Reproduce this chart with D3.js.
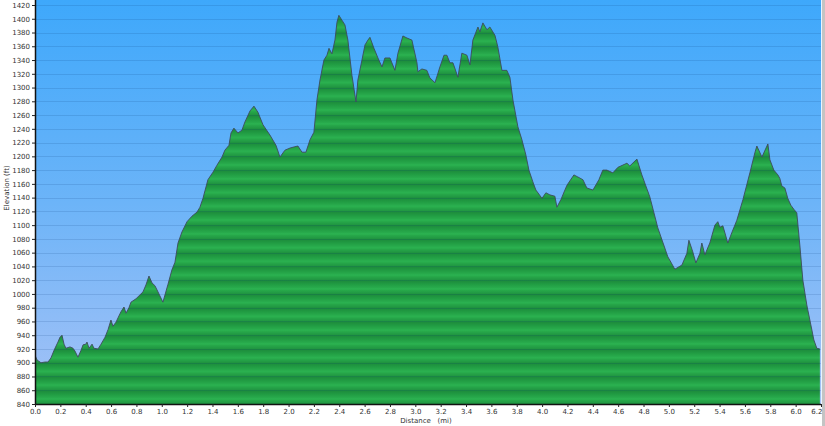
<!DOCTYPE html>
<html>
<head>
<meta charset="utf-8">
<script src="https://cdn.jsdelivr.net/npm/d3@7/dist/d3.min.js"></script>
<style>
html,body{margin:0;padding:0;background:#fff;}
svg{display:block;}
text{font-family:"DejaVu Sans",Verdana,sans-serif;}
</style>
</head>
<body>
<svg id="chart" width="825" height="426"></svg>
<script>
const distance = [0.000,0.016,0.047,0.079,0.103,0.126,0.150,0.181,0.197,0.213,0.229,0.244,0.276,0.300,0.315,0.339,0.363,0.379,0.402,0.410,0.426,0.450,0.465,0.497,0.521,0.552,0.576,0.599,0.615,0.639,0.662,0.678,0.702,0.718,0.741,0.757,0.797,0.852,0.875,0.899,0.923,0.946,0.978,1.009,1.049,1.080,1.104,1.128,1.159,1.199,1.238,1.278,1.301,1.325,1.364,1.404,1.435,1.475,1.498,1.530,1.546,1.569,1.601,1.632,1.656,1.696,1.727,1.759,1.798,1.853,1.901,1.932,1.972,2.011,2.050,2.074,2.106,2.137,2.169,2.200,2.224,2.248,2.279,2.303,2.319,2.342,2.366,2.382,2.397,2.421,2.445,2.468,2.500,2.532,2.547,2.579,2.603,2.626,2.642,2.674,2.705,2.737,2.760,2.800,2.839,2.863,2.902,2.934,2.973,3.013,3.020,3.052,3.091,3.115,3.155,3.194,3.226,3.249,3.273,3.297,3.336,3.367,3.407,3.431,3.454,3.494,3.509,3.533,3.565,3.588,3.628,3.651,3.683,3.722,3.746,3.770,3.809,3.841,3.872,3.896,3.927,3.951,3.999,4.030,4.061,4.101,4.117,4.148,4.196,4.251,4.282,4.322,4.353,4.401,4.448,4.479,4.511,4.558,4.598,4.669,4.692,4.748,4.787,4.850,4.913,4.992,5.047,5.103,5.142,5.158,5.189,5.213,5.245,5.260,5.284,5.323,5.363,5.386,5.402,5.426,5.465,5.505,5.536,5.584,5.639,5.678,5.694,5.734,5.781,5.797,5.828,5.860,5.875,5.891,5.915,5.938,5.962,5.986,6.009,6.033,6.057,6.088,6.120,6.144,6.167,6.191];
const elevation = [911,904,900,901,901,907,918,930,937,940,927,921,923,921,917,908,918,926,927,930,921,927,921,920,927,937,948,962,953,959,968,974,981,972,980,988,993,1003,1013,1026,1016,1012,1000,988,1014,1035,1046,1074,1090,1105,1113,1119,1126,1139,1166,1177,1187,1199,1209,1216,1234,1241,1234,1238,1250,1266,1273,1264,1246,1231,1216,1199,1209,1212,1214,1215,1206,1206,1224,1235,1282,1311,1340,1347,1357,1349,1369,1395,1405,1398,1391,1369,1318,1279,1311,1340,1362,1369,1373,1357,1343,1330,1343,1343,1325,1350,1375,1372,1369,1336,1323,1327,1325,1314,1307,1330,1347,1347,1336,1336,1315,1350,1347,1333,1369,1388,1381,1394,1384,1388,1376,1359,1325,1325,1315,1282,1243,1224,1202,1180,1163,1151,1139,1147,1144,1142,1126,1137,1158,1173,1170,1166,1154,1151,1166,1180,1180,1176,1184,1190,1186,1196,1173,1141,1096,1054,1036,1042,1059,1078,1061,1045,1059,1074,1057,1074,1100,1105,1097,1099,1074,1093,1107,1137,1176,1205,1215,1199,1218,1195,1180,1173,1168,1157,1154,1139,1129,1123,1118,1071,1020,984,955,933,921,920];
const xTicks = d3.range(0, 32).map(i => +(i * 0.2).toFixed(1));
const yTicks = d3.range(840, 1421, 20);
const xTitle = "Distance   (mi)";
const yTitle = "Elevation (ft)";

const svg = d3.select("#chart");
const L = 35, R = 821, T = 0, B = 404;
const x = d3.scaleLinear().domain([0, 6.2]).range([L, R]);
const y = d3.scaleLinear().domain([840, 1420]).range([B, 5]);
const band = y(840) - y(860);

const defs = svg.append("defs");
const bg = defs.append("linearGradient").attr("id","bg").attr("x1",0).attr("y1",0).attr("x2",0).attr("y2",1);
bg.append("stop").attr("offset","0%").attr("stop-color","#3ea8fb");
bg.append("stop").attr("offset","50%").attr("stop-color","#6cb4f8");
bg.append("stop").attr("offset","100%").attr("stop-color","#a6c2f6");

const sg = defs.append("linearGradient").attr("id","stripe").attr("x1",0).attr("y1",0).attr("x2",0).attr("y2",1);
[["0%","#1c893b"],["30%","#219c43"],["55%","#28ab4c"],["64%","#2cb452"],["72%","#27a94a"],["100%","#209441"]]
  .forEach(s => sg.append("stop").attr("offset", s[0]).attr("stop-color", s[1]));
const pat = defs.append("pattern").attr("id","greenpat").attr("patternUnits","userSpaceOnUse")
  .attr("width", 10).attr("height", band)
  .attr("patternTransform", `translate(0,${y(1420)})`);
pat.append("rect").attr("width",10).attr("height",band).attr("fill","url(#stripe)");

defs.append("clipPath").attr("id","clip").append("rect").attr("x",L).attr("y",T).attr("width",R-L).attr("height",B-T);

svg.append("rect").attr("x",L).attr("y",T).attr("width",R-L).attr("height",B-T).attr("fill","url(#bg)");

const data = distance.map((d,i)=>({d, e: elevation[i]}));
const area = d3.area().x(p=>x(p.d)).y0(B).y1(p=>y(p.e)).curve(d3.curveLinear);
const line = d3.line().x(p=>x(p.d)).y(p=>y(p.e));

const g = svg.append("g").attr("clip-path","url(#clip)");
g.append("path").datum(data).attr("d", area).attr("fill","url(#greenpat)");

g.selectAll("line.grid").data(yTicks).join("line").attr("class","grid")
  .attr("x1",L).attr("x2",R).attr("y1",d=>Math.round(y(d))+0.5).attr("y2",d=>Math.round(y(d))+0.5)
  .attr("stroke","#0a3c78").attr("stroke-opacity",0.14).attr("stroke-width",1);

g.append("path").datum(data).attr("d", line).attr("fill","none").attr("stroke","#3d4b5c").attr("stroke-width",0.9);

// right border
svg.append("line").attr("x1",R+0.5).attr("x2",R+0.5).attr("y1",0).attr("y2",B).attr("stroke","#e8f4ff");
svg.append("rect").attr("x",822).attr("y",0).attr("width",3).attr("height",426).attr("fill","#c4c4c4");

// axes
const yAxis = d3.axisLeft(y).tickValues(yTicks).tickSize(3).tickPadding(2).tickFormat(d3.format("d"));
const ya = svg.append("g").attr("transform",`translate(${L},0)`).call(yAxis);
ya.select(".domain").attr("d", `M0.5,0V${B}`).attr("stroke","#111").attr("stroke-width",1.5);
ya.selectAll(".tick line").attr("stroke","#222");
ya.selectAll(".tick text").attr("font-size","7px").attr("fill","#333").attr("font-family","DejaVu Sans");

const xAxis = d3.axisBottom(x).tickValues(xTicks).tickSize(3).tickPadding(2).tickFormat(d3.format(".1f"));
const xa = svg.append("g").attr("transform",`translate(0,${B})`).call(xAxis);
xa.select(".domain").attr("d", `M${L},0.5H${R}`).attr("stroke","#111").attr("stroke-width",1.5);
xa.selectAll(".tick line").attr("stroke","#222");
xa.selectAll(".tick text").attr("font-size","7px").attr("fill","#333").attr("font-family","DejaVu Sans");
xa.selectAll(".tick text").filter(d => d === 6.2).attr("text-anchor","end").attr("dx","1");

svg.append("text").attr("x", 426).attr("y", 423).attr("text-anchor","middle")
  .attr("font-size","7px").attr("fill","#333").attr("xml:space","preserve").style("white-space","pre").text(xTitle);
svg.append("text").attr("transform","translate(9,188) rotate(-90)").attr("text-anchor","middle")
  .attr("font-size","7px").attr("fill","#333").text(yTitle);
</script>
</body>
</html>
